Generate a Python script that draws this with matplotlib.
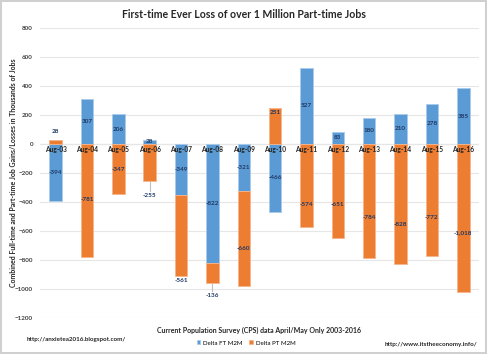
import matplotlib.pyplot as plt
import numpy as np

plt.rcParams['font.family'] = ['Lato', 'DejaVu Sans']

years = ["Aug-03", "Aug-04", "Aug-05", "Aug-06", "Aug-07", "Aug-08", "Aug-09",
         "Aug-10", "Aug-11", "Aug-12", "Aug-13", "Aug-14", "Aug-15", "Aug-16"]
delta_ft = [-394, 307, 206, 28, -349, -822, -321, -466, 527, 83, 180, 210, 278, 385]
delta_pt = [28, -781, -347, -255, -561, -136, -660, 251, -574, -651, -784, -828, -772, -1018]

# where the orange labels were dragged to in the original
pt_label_y = [83, -385, -177, -354, -941, -1047, -724, 218, -419, -419, -510, -558, -510, -613]

blue = "#5B9BD5"
orange = "#ED7D31"
lab_col = "#1F3864"

fig = plt.figure(figsize=(4.87, 3.54), dpi=100)
fig.patch.set_edgecolor("#d0d0d0")
fig.patch.set_linewidth(1.5)
ax = fig.add_axes([0.0821, 0.1017, 0.9014, 0.8192])

x = np.arange(len(years))
ft = np.array(delta_ft)
pt = np.array(delta_pt)
pt_bottom = np.where(np.sign(pt) == np.sign(ft), ft, 0)

ax.bar(x, ft, width=0.4, color=blue, edgecolor="#a9cbea", linewidth=0.6,
       label="Delta FT M2M", zorder=3)
ax.bar(x, pt, width=0.4, bottom=pt_bottom, color=orange, edgecolor="#f5b58c",
       linewidth=0.6, label="Delta PT M2M", zorder=3)

for i in range(len(years)):
    ax.text(x[i], ft[i] / 2, f"{ft[i]:,}", ha="center", va="center",
            fontsize=4.6, fontweight="bold", color=lab_col, zorder=5)
    ax.text(x[i], pt_label_y[i], f"{pt[i]:,}", ha="center", va="center",
            fontsize=4.6, fontweight="bold", color=lab_col, zorder=5)
    ax.text(x[i], -12, years[i], ha="center", va="top", fontsize=4.8,
            fontweight="bold", color="#262626", zorder=5)

# leader lines for labels pulled outside the bars
for i in [3, 5]:
    end = pt_bottom[i] + pt[i]
    ax.plot([x[i], x[i]], [end - 10, pt_label_y[i] + 30], color="#bfbfbf",
            linewidth=0.8, zorder=2)

ax.set_xlim(-0.5, len(years) - 0.5)
ax.set_ylim(-1200, 800)
ax.set_yticks(range(-1200, 801, 200))
ax.tick_params(axis="y", labelsize=4.5, length=0, colors="#404040", pad=5)
ax.set_xticks([])
for lbl in ax.get_yticklabels():
    lbl.set_fontweight("bold")
ax.grid(axis="y", color="#e6e6e6", linewidth=0.8, zorder=0)
ax.axhline(0, color="#d9d9d9", linewidth=0.8, zorder=1)
for s in ax.spines.values():
    s.set_visible(False)

fig.text(0.027, 0.511,
         "Combined Full-time and Part-time Job Gains/Losses in Thousands of Jobs",
         rotation=90, ha="center", va="center", fontsize=5,
         fontweight="bold", color="#262626")
ax.set_xlabel("Current Population Survey (CPS) data April/May Only 2003-2016",
              fontsize=5, fontweight="bold", color="#262626")
ax.xaxis.set_label_coords(0.5, -0.03)

fig.suptitle("First-time Ever Loss of over 1 Million Part-time Jobs",
             fontsize=7.6, fontweight="bold", color="#262626", y=0.975)

fig.legend(loc="center", bbox_to_anchor=(0.505, 0.031), ncol=2, frameon=False,
           fontsize=4.4, handlelength=0.6, handleheight=0.6, columnspacing=1.2,
           handletextpad=0.4)

fig.text(0.055, 0.04, "http://anxietea2016.blogspot.com/", fontsize=4.5,
         fontweight="bold", color="#262626", va="center")
fig.text(0.98, 0.028, "http://www.itstheeconomy.info/", fontsize=4.5,
         fontweight="bold", color="#262626", va="center", ha="right")

fig.savefig("out.png", dpi=100)
